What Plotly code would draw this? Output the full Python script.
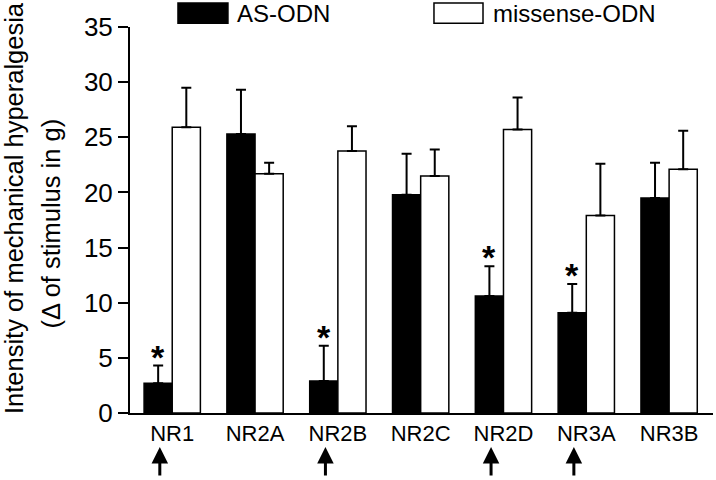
import plotly.graph_objects as go

categories = ["NR1", "NR2A", "NR2B", "NR2C", "NR2D", "NR3A", "NR3B"]
as_odn = [2.7, 25.3, 2.9, 19.8, 10.6, 9.1, 19.5]
as_err = [1.6, 4.0, 3.2, 3.7, 2.7, 2.6, 3.2]
missense_odn = [25.9, 21.7, 23.75, 21.5, 25.7, 17.9, 22.1]
missense_err = [3.6, 1.0, 2.25, 2.4, 2.9, 4.7, 3.5]
significant = [True, False, True, False, True, True, False]

FONT = "Liberation Sans, Arial, sans-serif"

fig = go.Figure()
fig.add_trace(go.Bar(
    x=list(range(len(categories))), y=as_odn, name="AS-ODN",
    marker=dict(color="black", line=dict(color="black", width=1.5)),
    error_y=dict(type="data", array=as_err, arrayminus=[0] * len(as_err),
                 symmetric=False, color="black", thickness=2, width=5),
))
fig.add_trace(go.Bar(
    x=list(range(len(categories))), y=missense_odn, name="missense-ODN",
    marker=dict(color="white", line=dict(color="black", width=1.5)),
    error_y=dict(type="data", array=missense_err, arrayminus=[0] * len(missense_err),
                 symmetric=False, color="black", thickness=2, width=5),
))

annotations = []
for i, sig in enumerate(significant):
    if sig:
        annotations.append(dict(
            x=i - 0.17, y=as_odn[i] + as_err[i], xref="x", yref="y",
            text="<b>*</b>", showarrow=False, yanchor="bottom", xanchor="center",
            yshift=-12, font=dict(family=FONT, size=34, color="black")))
        annotations.append(dict(
            x=i - 0.15, y=-0.088, xref="x", yref="paper",
            text="", showarrow=True, ax=0, ay=30, arrowhead=2,
            arrowsize=1.1, arrowwidth=3, arrowcolor="black"))

# y-axis title (two lines)
annotations.append(dict(
    x=-0.199, y=0.531, xref="paper", yref="paper", textangle=-90,
    text="Intensity of mechanical hyperalgesia", showarrow=False,
    xanchor="center", yanchor="middle",
    font=dict(family=FONT, size=25.5, color="black")))
annotations.append(dict(
    x=-0.136, y=0.49, xref="paper", yref="paper", textangle=-90,
    text="(\u0394 of stimulus in g)", showarrow=False,
    xanchor="center", yanchor="middle",
    font=dict(family=FONT, size=25.5, color="black")))

# legend
annotations.append(dict(
    x=0.180, y=1.036, xref="paper", yref="paper", text="AS-ODN",
    showarrow=False, xanchor="left", yanchor="middle",
    font=dict(family=FONT, size=24, color="black")))
annotations.append(dict(
    x=0.619, y=1.036, xref="paper", yref="paper", text="missense-ODN",
    showarrow=False, xanchor="left", yanchor="middle",
    font=dict(family=FONT, size=24, color="black")))

shapes = [
    dict(type="rect", xref="paper", yref="paper", x0=0.0823, x1=0.168,
         y0=1.010, y1=1.062, fillcolor="black", line=dict(color="black", width=1.5)),
    dict(type="rect", xref="paper", yref="paper", x0=0.5214, x1=0.6055,
         y0=1.010, y1=1.062, fillcolor="white", line=dict(color="black", width=1.5)),
]

fig.update_layout(
    width=716, height=480,
    margin=dict(l=130, r=3, t=27, b=67),
    paper_bgcolor="white", plot_bgcolor="white",
    barmode="group", bargap=0.32, bargroupgap=0,
    showlegend=False,
    font=dict(family=FONT, color="black"),
    annotations=annotations, shapes=shapes,
    xaxis=dict(
        tickmode="array", tickvals=list(range(len(categories))), ticktext=categories,
        range=[-0.51, 6.53], showline=True, linecolor="black", linewidth=2,
        ticks="", showgrid=False, zeroline=False,
        tickfont=dict(family=FONT, size=22, color="black"),
    ),
    yaxis=dict(
        range=[0, 35], dtick=5, showline=True, linecolor="black", linewidth=2,
        ticks="outside", ticklen=10, tickwidth=2, tickcolor="black",
        showgrid=False, zeroline=False,
        tickfont=dict(family=FONT, size=26, color="black"),
    ),
)

fig.write_html("out.html", config={"displayModeBar": False},
               post_script="document.body.style.margin='0';")
